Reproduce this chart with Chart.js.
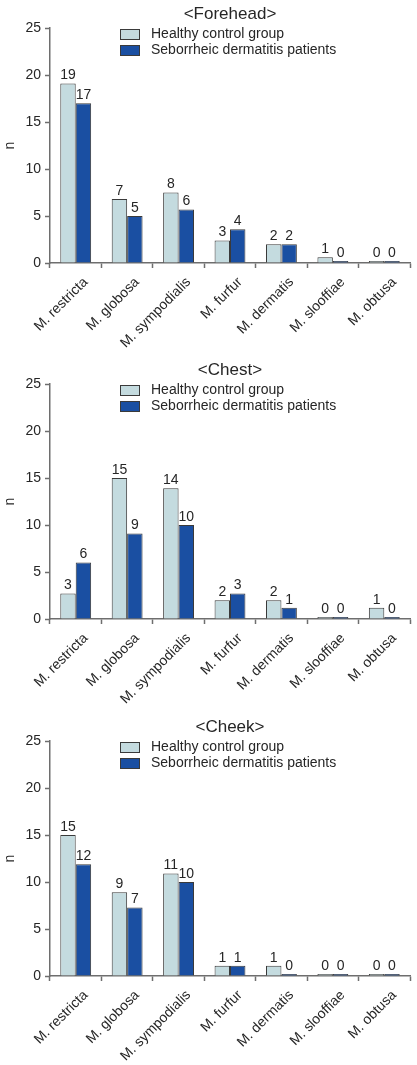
<!DOCTYPE html>
<html>
<head>
<meta charset="utf-8">
<script src="https://cdn.jsdelivr.net/npm/chart.js@4/dist/chart.umd.min.js"></script>
<style>
    html, body { margin: 0; padding: 0; background: #fff; overflow: hidden; }
    body { width: 417px; height: 1065px; }
    .panel { position: absolute; left: 0; width: 417px; height: 356px; }
</style>
</head>
<body>
<div class="panel" style="top:0px"><canvas id="foreheadChart" width="417" height="356"></canvas></div>
<div class="panel" style="top:356px"><canvas id="chestChart" width="417" height="356"></canvas></div>
<div class="panel" style="top:713px"><canvas id="cheekChart" width="417" height="356"></canvas></div>
<script>
// Species on the x axis
const categories = ['M. restricta', 'M. globosa', 'M. sympodialis', 'M. furfur', 'M. dermatis', 'M. slooffiae', 'M. obtusa'];
const seriesNames = ['Healthy control group', 'Seborrheic dermatitis patients'];
const yTicks = [0, 5, 10, 15, 20, 25];

// Forehead - bar heights as drawn, and the numbers printed above them
const foreheadHealthy = [19.1, 6.8, 7.5, 2.4, 2.0, 0.6, 0];
const foreheadPatients = [17.0, 5.0, 5.7, 3.6, 2.0, 0, 0];
const foreheadHealthyLabels = [19, 7, 8, 3, 2, 1, 0];
const foreheadPatientsLabels = [17, 5, 6, 4, 2, 0, 0];

// Chest
const chestHealthy = [2.7, 15.0, 13.9, 2.0, 2.0, 0, 1.2];
const chestPatients = [6.0, 9.1, 10.0, 2.7, 1.2, 0, 0];
const chestHealthyLabels = [3, 15, 14, 2, 2, 0, 1];
const chestPatientsLabels = [6, 9, 10, 3, 1, 0, 0];

// Cheek
const cheekHealthy = [15.0, 8.9, 10.9, 1.1, 1.1, 0, 0];
const cheekPatients = [11.9, 7.3, 10.0, 1.1, 0, 0, 0];
const cheekHealthyLabels = [15, 9, 11, 1, 1, 0, 0];
const cheekPatientsLabels = [12, 7, 10, 1, 0, 0, 0];

const FONT = '"Liberation Sans", Arial, Helvetica, sans-serif';
const healthyColor = '#c4dbdf';
const patientColor = '#1a4fa2';
const edgeColor = '#3a3a3a';
const textColor = '#262626';
const axisColor = '#6e6e6e';

// Title + legend sit inside the plot area, drawn by hand
const panelDecor = {
    id: 'panelDecor',
    afterDraw(chart) {
        const ctx = chart.ctx;
        const opts = chart.options.plugins.panelDecor;
        ctx.save();
        ctx.fillStyle = textColor;
        ctx.font = '17px ' + FONT;
        ctx.textAlign = 'center';
        ctx.textBaseline = 'middle';
        ctx.fillText(opts.title, 230, 14);

        ctx.font = '14px ' + FONT;
        ctx.textAlign = 'left';
        chart.data.datasets.forEach((ds, i) => {
            const y = 29 + i * 16;
            ctx.fillStyle = ds.backgroundColor;
            ctx.fillRect(120.5, y, 19, 10);
            ctx.strokeStyle = edgeColor;
            ctx.lineWidth = 1;
            ctx.strokeRect(120.5, y + 0.5, 19, 10);
            ctx.fillStyle = textColor;
            ctx.fillText(ds.label, 151, y + 5.5);
        });
        ctx.restore();
    }
};

// Numbers printed above each bar
const barNumbers = {
    id: 'barNumbers',
    afterDatasetsDraw(chart) {
        const ctx = chart.ctx;
        const labelSets = chart.options.plugins.barNumbers.labels;
        ctx.save();
        ctx.fillStyle = textColor;
        ctx.font = '14px ' + FONT;
        ctx.textAlign = 'center';
        ctx.textBaseline = 'bottom';
        chart.data.datasets.forEach((ds, di) => {
            const meta = chart.getDatasetMeta(di);
            meta.data.forEach((bar, i) => {
                ctx.fillText(String(labelSets[di][i]), bar.x, bar.y - 1);
            });
        });
        ctx.restore();
    }
};

function createPanelChart(canvasId, title, healthy, patients, healthyLabels, patientsLabels) {
    const ctx = document.getElementById(canvasId).getContext('2d');
    return new Chart(ctx, {
        type: 'bar',
        data: {
            labels: categories,
            datasets: [
                {
                    label: seriesNames[0],
                    data: healthy,
                    backgroundColor: healthyColor,
                    borderColor: edgeColor,
                    borderWidth: 1,
                    minBarLength: 2
                },
                {
                    label: seriesNames[1],
                    data: patients,
                    backgroundColor: patientColor,
                    borderColor: edgeColor,
                    borderWidth: 1,
                    minBarLength: 2
                }
            ]
        },
        options: {
            responsive: false,
            animation: false,
            devicePixelRatio: 1,
            layout: { padding: { top: 28, right: 7, left: 0, bottom: 0 } },
            datasets: {
                bar: { categoryPercentage: 0.6, barPercentage: 1.0 }
            },
            scales: {
                x: {
                    grid: {
                        drawOnChartArea: false,
                        drawTicks: true,
                        tickLength: 5,
                        tickColor: axisColor,
                        tickWidth: 1.5,
                        offset: true
                    },
                    border: { color: axisColor, width: 1.5 },
                    ticks: {
                        color: textColor,
                        font: { family: FONT, size: 14 },
                        minRotation: 45,
                        maxRotation: 45,
                        autoSkip: false,
                        labelOffset: 10,
                        padding: 6
                    },
                    afterFit(scale) { scale.height = 93; }
                },
                y: {
                    min: 0,
                    max: 25,
                    afterBuildTicks(scale) { scale.ticks = yTicks.map(v => ({ value: v })); },
                    grid: {
                        drawOnChartArea: false,
                        drawTicks: true,
                        tickLength: 5,
                        tickColor: axisColor,
                        tickWidth: 1.5
                    },
                    border: { color: axisColor, width: 1.5 },
                    ticks: {
                        color: textColor,
                        font: { family: FONT, size: 14 },
                        padding: 4
                    },
                    title: {
                        display: true,
                        text: 'n',
                        color: textColor,
                        font: { family: FONT, size: 14 },
                        padding: { top: 2, bottom: 0 }
                    },
                    afterFit(scale) { scale.width = 50; }
                }
            },
            plugins: {
                legend: { display: false },
                title: { display: false },
                tooltip: { enabled: false },
                panelDecor: { title: title },
                barNumbers: { labels: [healthyLabels, patientsLabels] }
            }
        },
        plugins: [panelDecor, barNumbers]
    });
}

createPanelChart('foreheadChart', '<Forehead>', foreheadHealthy, foreheadPatients, foreheadHealthyLabels, foreheadPatientsLabels);
createPanelChart('chestChart', '<Chest>', chestHealthy, chestPatients, chestHealthyLabels, chestPatientsLabels);
createPanelChart('cheekChart', '<Cheek>', cheekHealthy, cheekPatients, cheekHealthyLabels, cheekPatientsLabels);
</script>
</body>
</html>
